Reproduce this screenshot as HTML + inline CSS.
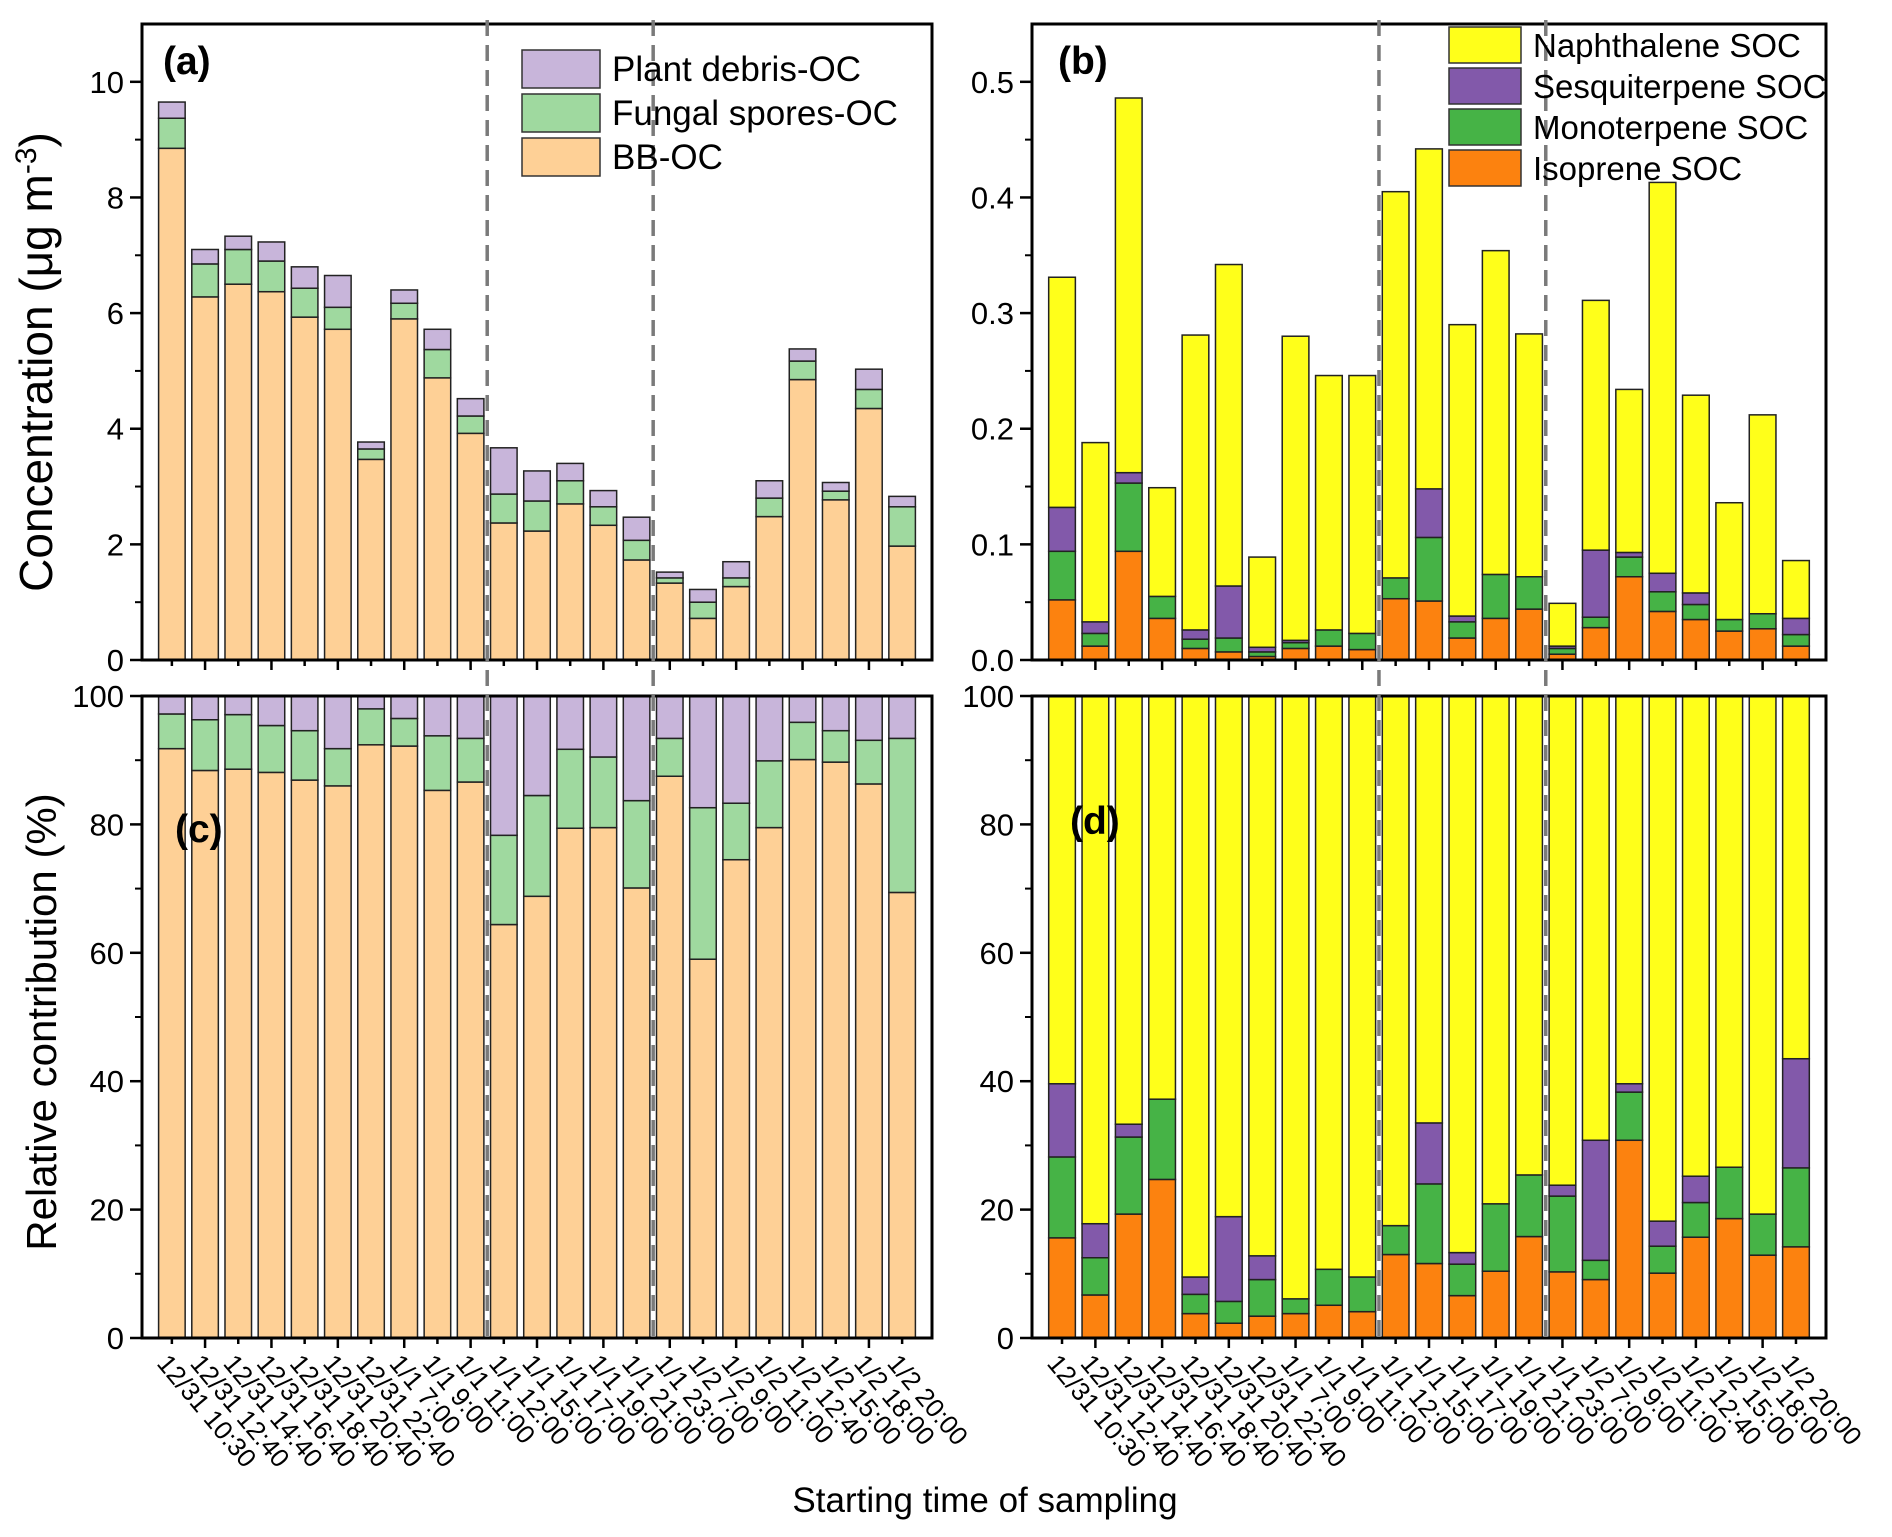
<!DOCTYPE html>
<html><head><meta charset="utf-8">
<style>
html,body{margin:0;padding:0;background:#fff;}
svg{display:block;font-family:"Liberation Sans",Arial,sans-serif;}
</style></head>
<body>
<svg id="chart" width="1892" height="1537" viewBox="0 0 1892 1537" xmlns="http://www.w3.org/2000/svg"></svg>
<script>
const categories = ["12/31 10:30","12/31 12:40","12/31 14:40","12/31 16:40","12/31 18:40","12/31 20:40","12/31 22:40","1/1 7:00","1/1 9:00","1/1 11:00","1/1 12:00","1/1 15:00","1/1 17:00","1/1 19:00","1/1 21:00","1/1 23:00","1/2 7:00","1/2 9:00","1/2 11:00","1/2 12:40","1/2 15:00","1/2 18:00","1/2 20:00"];
// Panel (a) concentrations (ug m-3)
const bbOC = [8.85,6.28,6.5,6.37,5.93,5.72,3.47,5.9,4.88,3.92,2.37,2.23,2.7,2.33,1.73,1.33,0.72,1.27,2.48,4.85,2.77,4.35,1.97];
const fungalOC = [0.52,0.57,0.6,0.53,0.5,0.38,0.18,0.27,0.49,0.3,0.5,0.52,0.4,0.32,0.34,0.09,0.28,0.15,0.32,0.32,0.15,0.33,0.68];
const plantOC = [0.28,0.25,0.23,0.33,0.37,0.55,0.12,0.23,0.35,0.3,0.8,0.52,0.3,0.28,0.4,0.1,0.22,0.28,0.3,0.21,0.15,0.35,0.18];
// Panel (c) relative contributions (%)
const bbPct = [91.8,88.4,88.6,88.1,86.9,86,92.4,92.2,85.3,86.6,64.4,68.8,79.4,79.5,70.1,87.5,59,74.5,79.5,90.1,89.7,86.3,69.4];
const fungalPct = [5.4,7.9,8.5,7.3,7.7,5.8,5.6,4.3,8.5,6.8,13.9,15.7,12.3,11,13.6,5.9,23.6,8.8,10.4,5.8,4.9,6.8,24];
// Panel (b) SOC concentrations (ug m-3)
const isopreneSOC = [0.052,0.012,0.094,0.036,0.010,0.007,0.003,0.010,0.012,0.009,0.053,0.051,0.019,0.036,0.044,0.005,0.028,0.072,0.042,0.035,0.025,0.027,0.012];
const monoSOC = [0.042,0.011,0.059,0.019,0.008,0.012,0.004,0.005,0.014,0.014,0.018,0.055,0.014,0.038,0.028,0.005,0.009,0.017,0.017,0.013,0.010,0.013,0.010];
const sesqSOC = [0.038,0.010,0.009,0.0,0.008,0.045,0.004,0.002,0.0,0.0,0.0,0.042,0.005,0.0,0.0,0.002,0.058,0.004,0.016,0.010,0.0,0.0,0.014];
const naphSOC = [0.199,0.155,0.324,0.094,0.255,0.278,0.078,0.263,0.220,0.223,0.334,0.294,0.252,0.280,0.210,0.037,0.216,0.141,0.338,0.171,0.101,0.172,0.050];
// Panel (d) relative contributions (%)
const isoPct = [15.6,6.7,19.3,24.7,3.8,2.3,3.4,3.8,5.1,4.1,13,11.6,6.6,10.4,15.8,10.3,9.1,30.8,10.1,15.7,18.6,12.9,14.2];
const monoPct = [12.6,5.8,12,12.5,3,3.4,5.7,2.3,5.6,5.4,4.5,12.4,4.9,10.5,9.6,11.8,3,7.5,4.2,5.4,8,6.4,12.3];
const sesqPct = [11.4,5.3,2,0,2.7,13.2,3.7,0,0,0,0,9.5,1.8,0,0,1.7,18.7,1.3,3.9,4.1,0,0,17];
const yTicksA = [0,2,4,6,8,10];
const yTicksB = [0.0,0.1,0.2,0.3,0.4,0.5];
const yTicksPct = [0,20,40,60,80,100];

const NS="http://www.w3.org/2000/svg";
const svg=document.getElementById('chart');
function mk(tag,attrs,parent){const e=document.createElementNS(NS,tag);for(const k in attrs)e.setAttribute(k,attrs[k]);(parent||svg).appendChild(e);return e;}

const C={bb:"#fed096",fung:"#9fd99f",plant:"#c8b5da",naph:"#ffff1a",ses:"#8259aa",mono:"#46b346",iso:"#fc820f"};
const panels={
 a:{x0:142,x1:932,y0:24,y1:660,ymax:11},
 c:{x0:142,x1:932,y0:696,y1:1338,ymax:100},
 b:{x0:1032,x1:1826,y0:24,y1:660,ymax:0.55},
 d:{x0:1032,x1:1826,y0:696,y1:1338,ymax:100}
};
function xScale(p,i){const step=(p.x1-p.x0)/23.8;return p.x0+(i+0.9)*step;}
function yScale(p,v){return p.y1-v/p.ymax*(p.y1-p.y0);}

function drawStack(p,key,series,colors,names){
  const g=mk('g',{});
  
  
  const step=(p.x1-p.x0)/23.8, w=step*0.8;
  for(let i=0;i<categories.length;i++){
    let base=0;
    for(let s=0;s<series.length;s++){
      const v=series[s][i];
      const y0=yScale(p,base), y1=yScale(p,base+v);
      const r=mk('rect',{x:xScale(p,i)-w/2,y:y1,width:w,height:Math.max(0,y0-y1),fill:colors[s],stroke:"#222","stroke-width":1.5},g);
      
      
      base+=v;
    }
  }
}
function drawAxes(p,key,ticks,minor,fmt,showX){
  const g=mk('g',{});
  
  
  mk('rect',{x:p.x0,y:p.y0,width:p.x1-p.x0,height:p.y1-p.y0,fill:"none",stroke:"#000","stroke-width":3},g);
  ticks.forEach(t=>{
    const y=yScale(p,t);
    mk('line',{x1:p.x0-12,x2:p.x0,y1:y,y2:y,stroke:"#000","stroke-width":2.5},g);
    const tx=mk('text',{x:p.x0-18,y:y+11,"text-anchor":"end","font-size":31},g);
    tx.textContent=fmt(t);
    
    
  });
  minor.forEach(t=>{const y=yScale(p,t);mk('line',{x1:p.x0-7,x2:p.x0,y1:y,y2:y,stroke:"#000","stroke-width":2},g);});
  for(let i=0;i<categories.length;i++){
    const x=xScale(p,i);
    mk('line',{x1:x,x2:x,y1:p.y1,y2:p.y1+(i%2?10:6),stroke:"#000","stroke-width":2.5},g);
    if(showX){
      const tx=mk('text',{x:x-16,y:p.y1+26,"font-size":26,transform:`rotate(50 ${x-16} ${p.y1+26})`},g);
      tx.textContent=categories[i];
      
      
    }
  }
}
const pa=panels.a,pb=panels.b,pc=panels.c,pd=panels.d;
drawStack(pa,'a',[bbOC,fungalOC,plantOC],[C.bb,C.fung,C.plant],['bb-oc','fungal-oc','plant-oc']);
const plantPct=bbPct.map((v,i)=>100-v-fungalPct[i]);
drawStack(pc,'c',[bbPct,fungalPct,plantPct],[C.bb,C.fung,C.plant],['bb-oc','fungal-oc','plant-oc']);
drawStack(pb,'b',[isopreneSOC,monoSOC,sesqSOC,naphSOC],[C.iso,C.mono,C.ses,C.naph],['isoprene','monoterpene','sesquiterpene','naphthalene']);
const naphPct=isoPct.map((v,i)=>100-v-monoPct[i]-sesqPct[i]);
drawStack(pd,'d',[isoPct,monoPct,sesqPct,naphPct],[C.iso,C.mono,C.ses,C.naph],['isoprene','monoterpene','sesquiterpene','naphthalene']);

drawAxes(pa,'a',yTicksA,[1,3,5,7,9],t=>t,false);
drawAxes(pc,'c',yTicksPct,[10,30,50,70,90],t=>t,true);
drawAxes(pb,'b',yTicksB,[0.05,0.15,0.25,0.35,0.45],t=>t.toFixed(1),false);
drawAxes(pd,'d',yTicksPct,[10,30,50,70,90],t=>t,true);

// dashed separators
[[pa,9.5],[pa,14.5],[pb,9.5],[pb,14.5]].forEach(([p,i])=>{
  const x=xScale(p,i);
  const l=mk('line',{x1:x,x2:x,y1:20,y2:1338,stroke:"#7a7a7a","stroke-width":3.5,"stroke-dasharray":"16 9"});
  
  
});

// panel labels
[["(a)",163,74],["(b)",1058,74],["(c)",175,842],["(d)",1070,834]].forEach(([t,x,y])=>{
  const e=mk('text',{x:x,y:y,"font-size":39,"font-weight":"bold"});e.textContent=t;
  
  
});

// legends
function legend(items,x,y,dy,bw,bh,fs){
  items.forEach(([label,col],k)=>{
    const g=mk('g',{});
    
    
    mk('rect',{x:x,y:y+k*dy,width:bw,height:bh,fill:col,stroke:"#333","stroke-width":1.5},g);
    const t=mk('text',{x:x+bw+12,y:y+k*dy+bh/2+12,"font-size":fs},g);t.textContent=label;
  });
}
legend([["Plant debris-OC",C.plant],["Fungal spores-OC",C.fung],["BB-OC",C.bb]],522,50,44,78,38,35);
legend([["Naphthalene SOC",C.naph],["Sesquiterpene SOC",C.ses],["Monoterpene SOC",C.mono],["Isoprene SOC",C.iso]],1449,27,41,72,36,33);

// axis titles
const yt1=mk('text',{x:0,y:0,"font-size":46,"text-anchor":"middle",transform:"translate(52 362) rotate(-90)"});
yt1.innerHTML='Concentration (μg m<tspan dy="-16" font-size="30">-3</tspan><tspan dy="16">)</tspan>';


const yt2=mk('text',{x:0,y:0,"font-size":42,"text-anchor":"middle",transform:"translate(56 1022) rotate(-90)"});
yt2.textContent='Relative contribution (%)';


const xt=mk('text',{x:985,y:1512,"font-size":35,"text-anchor":"middle"});
xt.textContent='Starting time of sampling';


</script>
</body></html>
